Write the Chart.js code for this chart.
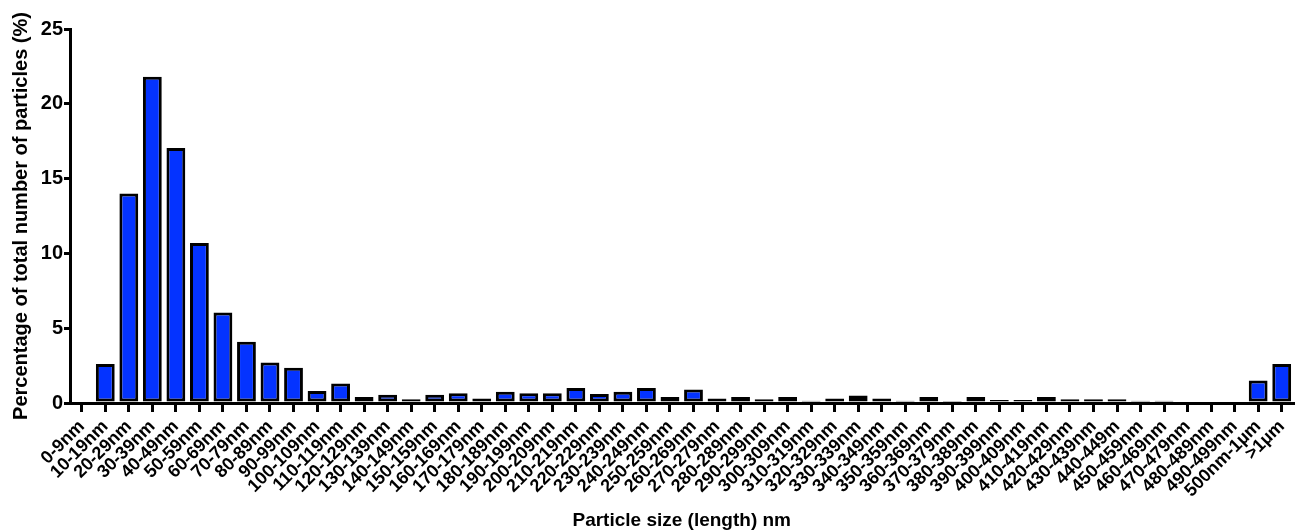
<!DOCTYPE html>
<html>
<head>
  <meta charset="utf-8"/>
  <script src="https://cdn.jsdelivr.net/npm/chart.js"></script>
  <style>
    html, body { margin: 0; padding: 0; background: #ffffff; }
    #chart { display: block; }
  </style>
</head>
<body>
  <canvas id="chart" width="1301" height="532"></canvas>

  <script>
    // size bins (the 440-449 label is spelled like in the original figure)
    const sizeBins = [
      "0-9nm", "10-19nm", "20-29nm", "30-39nm", "40-49nm", "50-59nm", "60-69nm",
      "70-79nm", "80-89nm", "90-99nm", "100-109nm", "110-119nm", "120-129nm",
      "130-139nm", "140-149nm", "150-159nm", "160-169nm", "170-179nm", "180-189nm",
      "190-199nm", "200-209nm", "210-219nm", "220-229nm", "230-239nm", "240-249nm",
      "250-259nm", "260-269nm", "270-279nm", "280-289nm", "290-299nm", "300-309nm",
      "310-319nm", "320-329nm", "330-339nm", "340-349nm", "350-359nm", "360-369nm",
      "370-379nm", "380-389nm", "390-399nm", "400-409nm", "410-419nm", "420-429nm",
      "430-439nm", "440-449m", "450-459nm", "460-469nm", "470-479nm", "480-489nm",
      "490-499nm", "500nm-1\u00b5m", ">1\u00b5m"
    ];

    // percentage of particles in each bin
    const percentParticles = [
      0, 2.6, 14.0, 21.8, 17.05, 10.7, 6.05, 4.1, 2.7, 2.35,
      0.8, 1.3, 0.4, 0.55, 0.25, 0.55, 0.65, 0.3, 0.75, 0.65,
      0.65, 1.0, 0.6, 0.75, 1.0, 0.4, 0.9, 0.3, 0.4, 0.25,
      0.4, 0.15, 0.3, 0.5, 0.3, 0.15, 0.4, 0.05, 0.4, 0.2,
      0.2, 0.4, 0.25, 0.25, 0.25, 0.15, 0.15, 0, 0.1, 0,
      1.5, 2.6
    ];

    const yTicks = [0, 5, 10, 15, 20, 25];

    const fontFamily = "'Liberation Sans', Arial, Helvetica, sans-serif";

    new Chart(document.getElementById('chart').getContext('2d'), {
      type: 'bar',
      data: {
        labels: sizeBins,
        datasets: [{
          data: percentParticles,
          backgroundColor: '#0433ff',
          borderColor: '#000000',
          borderWidth: 3,
          borderSkipped: false,
          barPercentage: 0.8,
          categoryPercentage: 1.0
        }]
      },
      options: {
        responsive: false,
        devicePixelRatio: 1,
        animation: false,
        layout: { padding: { top: 29, right: 3, left: 0, bottom: 0 } },
        plugins: {
          legend: { display: false },
          tooltip: { enabled: false }
        },
        scales: {
          x: {
            grid: {
              offset: false,
              drawOnChartArea: false,
              color: '#000000',
              lineWidth: 3,
              tickLength: 9,
              tickWidth: 3
            },
            border: { display: true, color: '#000000', width: 3 },
            ticks: {
              autoSkip: false,
              maxRotation: 45,
              minRotation: 45,
              padding: 4,
              color: '#000000',
              font: { family: fontFamily, size: 18, weight: 'bold' }
            },
            title: {
              display: true,
              text: 'Particle size (length) nm',
              color: '#000000',
              font: { family: fontFamily, size: 19, weight: 'bold' },
              padding: { top: 0, bottom: 0 }
            },
            afterFit: (s) => { s.height = 129; }
          },
          y: {
            min: 0,
            max: 25,
            afterBuildTicks: (s) => { s.ticks = yTicks.map(v => ({ value: v })); },
            grid: {
              drawOnChartArea: false,
              color: '#000000',
              lineWidth: 3,
              tickLength: 6,
              tickWidth: 3
            },
            border: { display: true, color: '#000000', width: 3 },
            ticks: {
              padding: 1,
              color: '#000000',
              font: { family: fontFamily, size: 20, weight: 'bold' }
            },
            title: {
              display: true,
              text: 'Percentage of total number of particles (%)',
              color: '#000000',
              font: { family: fontFamily, size: 20, weight: 'bold' },
              padding: { top: 9, bottom: 0 }
            },
            afterFit: (s) => { s.width = 70; }
          }
        }
      }
    });
  </script>
</body>
</html>
